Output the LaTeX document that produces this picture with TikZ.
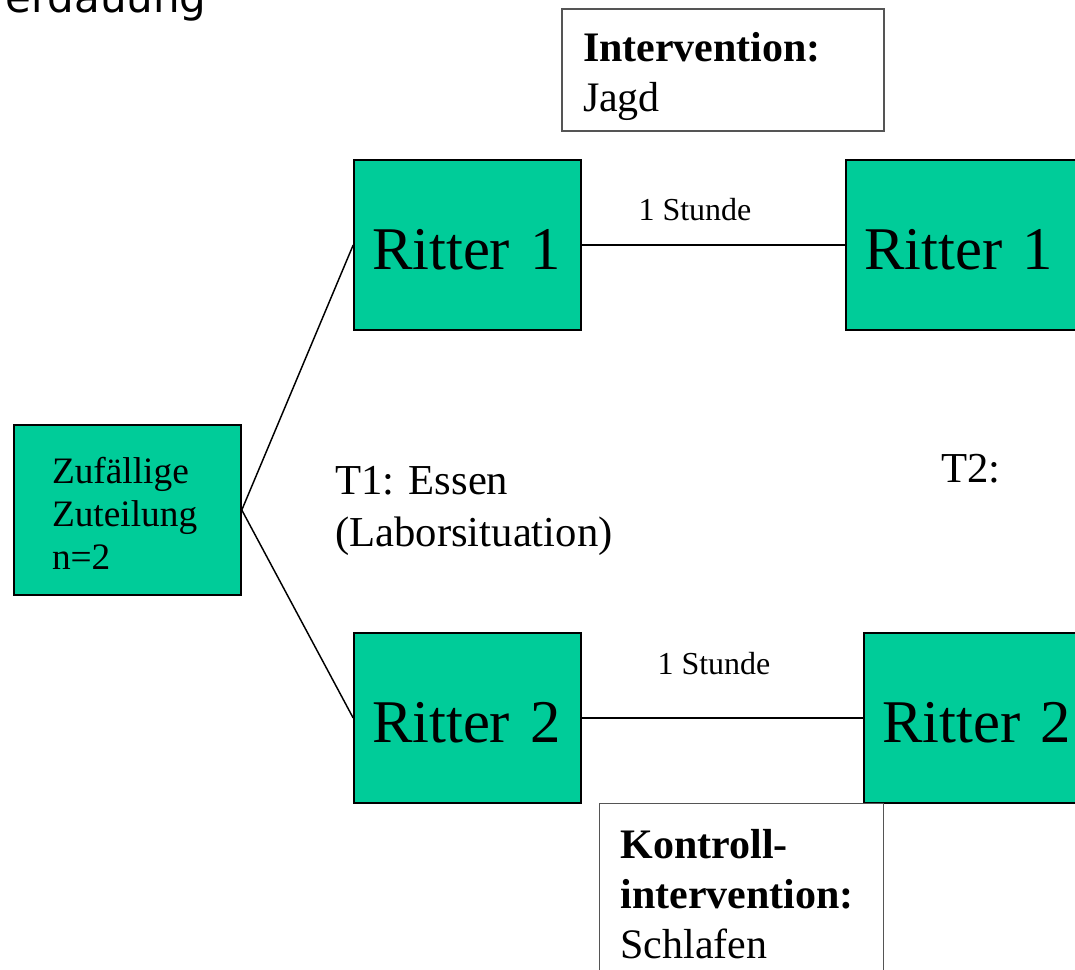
\documentclass[tikz,border=0pt]{standalone}
\usepackage{fontspec}
\setmainfont{Liberation Serif}
\newfontfamily\headsans{DejaVu Sans}
\definecolor{knightgreen}{RGB}{0,204,153}
\definecolor{frame}{RGB}{85,85,85}
\newcommand{\knightstrut}{\rule{0pt}{37pt}}
\begin{document}
\begin{tikzpicture}[x=0.75pt,y=-0.75pt,
  greenbox/.style={draw=black, line width=1.2pt, fill=knightgreen, inner ysep=0pt,
    inner xsep=13.5pt, minimum height=127.5pt, align=left},
  knight/.style={greenbox, font=\fontsize{45.5}{54}\selectfont},
  notebox/.style={draw=frame, line width=0.8pt, fill=white, inner xsep=15.75pt,
    align=left, font=\fontsize{31.5}{37.5}\selectfont},
  link/.style={draw=black, line width=1.1pt},
  hour/.style={font=\fontsize{24}{28}\selectfont, inner sep=0pt, anchor=base},
  plain/.style={font=\fontsize{32}{39}\selectfont, inner sep=0pt, align=left}]
\useasboundingbox (0,0) rectangle (1075,970);
\clip (0,0) rectangle (1075,970);

% title fragment at the upper edge
\node[font=\headsans\fontsize{31.5}{36}\selectfont, inner sep=0pt, anchor=base west]
  (title) at (5,13) {erdauung};

% randomisation box
\node[greenbox, inner xsep=28.5pt, text width=113.25pt, minimum width=170.25pt,
  font=\fontsize{28}{32.25}\selectfont] (zuf) at (127.5,510)
  {\rule{0pt}{25pt}Zufällige\\Zuteilung\\n=2};

% knights at T1 and T2
\node[knight, text width=143.25pt] (r1a) at (467.5,245) {\knightstrut\mbox{Ritter 1}};
\node[knight, text width=156pt]    (r1b) at (968,245)   {\knightstrut\mbox{Ritter 1}};
\node[knight, text width=143.25pt] (r2a) at (467.5,718) {\knightstrut\mbox{Ritter 2}};
\node[knight, text width=150pt]    (r2b) at (982,718)   {\knightstrut\mbox{Ritter 2}};

% connectors
\draw[link] (zuf.east) -- (r1a.west);
\draw[link] (zuf.east) -- (r2a.west);
\draw[link] (r1a.east) -- (r1b.west);
\draw[link] (r2a.east) -- (r2b.west);

% durations
\node[hour] (h1) at (695,220) {1 Stunde};
\node[hour] (h2) at (714,674) {1 Stunde};

% intervention notes
\node[notebox, text width=210pt, minimum height=91.5pt, inner ysep=0pt]
  (int) at (723,70) {\rule{0pt}{32pt}\textbf{Intervention:}\\Jagd};
\node[notebox, text width=181.5pt, anchor=north west, inner ysep=19pt]
  (ctl) at (599,803) {\textbf{Kontroll-}\\\textbf{intervention:}\\Schlafen};

% time points
\node[plain, anchor=north west] (t1) at (335,466) {T1: Essen\\(Laborsituation)};
\node[plain, anchor=base west] (t2) at (941,482) {T2:};
\end{tikzpicture}
\end{document}
